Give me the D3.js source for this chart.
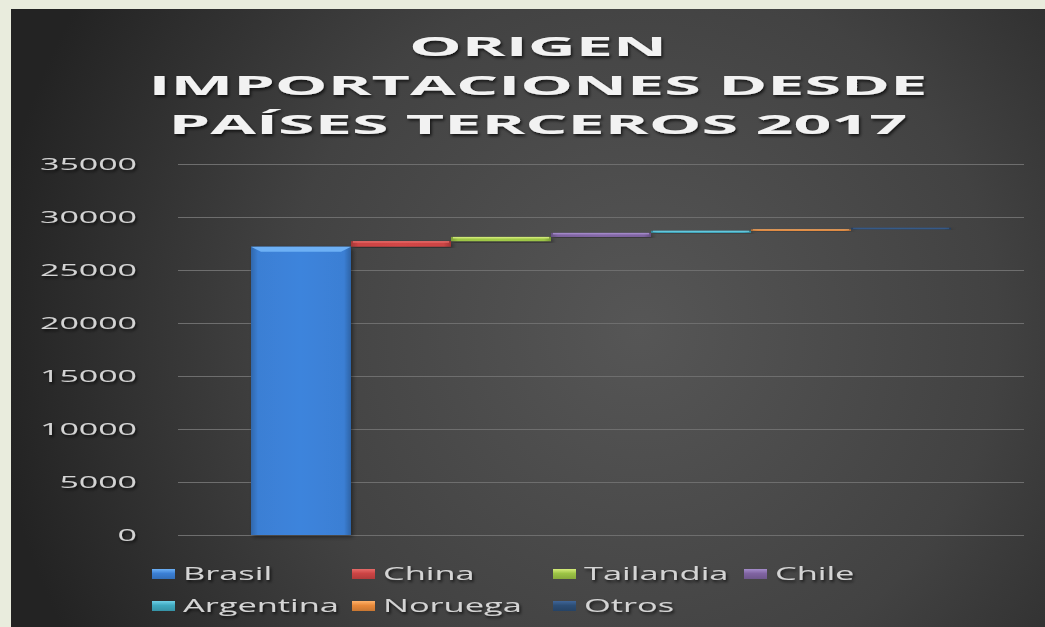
<!DOCTYPE html>
<html>
<head>
<meta charset="utf-8">
<script src="https://cdn.jsdelivr.net/npm/d3@7"></script>
<style>
  html, body { margin: 0; padding: 0; background: #e9ecdd; }
  svg { display: block; }
</style>
</head>
<body>
<svg id="chart" width="1045" height="627"></svg>
<script>
// ---- data ----
const titleLines = ["ORIGEN", "IMPORTACIONES DESDE", "PAÍSES TERCEROS 2017"];
const countries = ["Brasil", "China", "Tailandia", "Chile", "Argentina", "Noruega", "Otros"];
const values = [27200, 520, 400, 380, 200, 130, 150];
const yTicks = [0, 5000, 10000, 15000, 20000, 25000, 30000, 35000];
const palette = ["#3b7fd4", "#cc4444", "#9cc445", "#8064a2", "#3fa9bf", "#e8893a", "#2c4d75"];
const paletteLight = ["#6db0f5", "#e66a68", "#d4ec7a", "#a58ccb", "#6fd0e6", "#ffb26a", "#3f6598"];

// ---- layout ----
const W = 1045, H = 627;
const panel = {x: 11, y: 9};
const plot = {left: 178, right: 1024, top: 164, bottom: 535};

const svg = d3.select("#chart");
const defs = svg.append("defs");

const bg = defs.append("radialGradient").attr("id", "bg")
  .attr("gradientUnits", "userSpaceOnUse")
  .attr("cx", 640).attr("cy", 330).attr("r", 650);
bg.append("stop").attr("offset", "0").attr("stop-color", "#565656");
bg.append("stop").attr("offset", "0.55").attr("stop-color", "#424242");
bg.append("stop").attr("offset", "1").attr("stop-color", "#232323");

const sh = defs.append("filter").attr("id", "tshadow").attr("x", "-5%").attr("y", "-20%").attr("width", "110%").attr("height", "150%");
sh.append("feDropShadow").attr("dx", 1.5).attr("dy", 2).attr("stdDeviation", 1.5).attr("flood-color", "#000").attr("flood-opacity", 0.7);

const bsh = defs.append("filter").attr("id", "bshadow").attr("x", "-10%").attr("y", "-10%").attr("width", "130%").attr("height", "130%");
bsh.append("feDropShadow").attr("dx", 2).attr("dy", 2).attr("stdDeviation", 2).attr("flood-color", "#000").attr("flood-opacity", 0.45);

palette.forEach((c, i) => {
  const g = defs.append("linearGradient").attr("id", "bar" + i).attr("x1", 0).attr("x2", 1).attr("y1", 0).attr("y2", 0);
  g.append("stop").attr("offset", "0").attr("stop-color", d3.color(c).darker(0.6));
  g.append("stop").attr("offset", "0.07").attr("stop-color", c);
  g.append("stop").attr("offset", "0.5").attr("stop-color", d3.color(c).brighter(0.1));
  g.append("stop").attr("offset", "0.93").attr("stop-color", c);
  g.append("stop").attr("offset", "1").attr("stop-color", d3.color(c).darker(0.7));
  const s = defs.append("linearGradient").attr("id", "sw" + i).attr("x1", 0).attr("x2", 0).attr("y1", 0).attr("y2", 1);
  s.append("stop").attr("offset", "0").attr("stop-color", paletteLight[i]);
  s.append("stop").attr("offset", "0.45").attr("stop-color", c);
  s.append("stop").attr("offset", "1").attr("stop-color", d3.color(c).darker(0.4));
});

// panel background
svg.append("rect").attr("x", 0).attr("y", 0).attr("width", W).attr("height", H).attr("fill", "#e9ecdd");
svg.append("rect").attr("x", panel.x).attr("y", panel.y).attr("width", W - panel.x).attr("height", H - panel.y).attr("fill", "url(#bg)");

// ---- title ----
const titleG = svg.append("g").attr("filter", "url(#tshadow)");
const titleBaselines = [56, 95, 134];
const titleTexts = titleG.selectAll("text").data(titleLines).join("text")
  .attr("x", 538).attr("y", (d, i) => titleBaselines[i])
  .attr("text-anchor", "middle")
  .attr("font-family", "'Open Sans', sans-serif").attr("font-weight", "bold")
  .attr("font-size", 27).attr("fill", "#f2f2f2")
  .text(d => d);
const titleFactor = 779 / titleTexts.nodes()[1].getComputedTextLength();
titleTexts.each(function() {
  const n = this.getComputedTextLength();
  d3.select(this).attr("textLength", n * titleFactor).attr("lengthAdjust", "spacingAndGlyphs");
});

// ---- scales ----
const y = d3.scaleLinear().domain([0, 35000]).range([plot.bottom, plot.top]);
const x = d3.scaleBand().domain(countries).range([plot.left, plot.right]).paddingInner(0).paddingOuter(0.73);

// gridlines
svg.append("g").selectAll("line").data(yTicks).join("line")
  .attr("x1", plot.left).attr("x2", plot.right)
  .attr("y1", d => Math.round(y(d)) + 0.5).attr("y2", d => Math.round(y(d)) + 0.5)
  .attr("stroke", "#6e6e6e").attr("stroke-width", 1);

// y axis labels via d3 axis
const yAxis = svg.append("g").attr("transform", `translate(137,0)`)
  .call(d3.axisLeft(y).tickValues(yTicks).tickFormat(d3.format("d")).tickSize(0).tickPadding(0));
yAxis.select(".domain").remove();
yAxis.selectAll("text")
  .attr("font-family", "'Open Sans', sans-serif").attr("font-size", 17)
  .attr("fill", "#d4d4d4").attr("filter", "url(#tshadow)");
const tickNodes = yAxis.selectAll("text").nodes();
const tickFactor = 97 / tickNodes[tickNodes.length - 1].getComputedTextLength();
yAxis.selectAll("text").each(function() {
  const n = this.getComputedTextLength();
  d3.select(this).attr("textLength", n * tickFactor).attr("lengthAdjust", "spacingAndGlyphs");
});

// ---- bars (waterfall) ----
const tops = Array.from(d3.cumsum(values));
const bases = tops.map((t, i) => t - values[i]);
const barsG = svg.append("g");
countries.forEach((c, i) => {
  const x0 = x(c), w = x.bandwidth();
  const yt = y(tops[i]), yb = y(bases[i]);
  const h = Math.max(1.5, yb - yt);
  const g = barsG.append("g").attr("filter", "url(#bshadow)");
  g.append("rect").attr("x", x0).attr("y", yt).attr("width", w).attr("height", h)
    .attr("fill", `url(#bar${i})`);
  if (h > 20) {
    const bev = 5;
    g.append("path")
      .attr("d", `M${x0},${yt} L${x0 + w},${yt} L${x0 + w - bev * 2},${yt + bev} L${x0 + bev * 2},${yt + bev} Z`)
      .attr("fill", paletteLight[i]);
  } else {
    g.append("rect").attr("x", x0 + 2).attr("y", yt).attr("width", w - 4).attr("height", Math.min(1.5, h / 2))
      .attr("fill", paletteLight[i]).attr("opacity", 0.9);
  }
});

// ---- legend ----
const legCols = [152, 352, 553, 744];
const legRows = [574, 606];
const legG = svg.append("g");
const items = legG.selectAll("g").data(countries).join("g")
  .attr("transform", (d, i) => `translate(${legCols[i % 4]},${legRows[Math.floor(i / 4)]})`);
items.append("rect").attr("x", 0).attr("y", -5).attr("width", 23).attr("height", 10)
  .attr("fill", (d, i) => `url(#sw${i})`);
const legTexts = items.append("text").attr("x", 31).attr("y", 0).attr("dy", "0.35em")
  .attr("font-family", "'Open Sans', sans-serif").attr("font-size", 18)
  .attr("fill", "#d4d4d4").attr("filter", "url(#tshadow)")
  .text(d => d);
const legFactor = 156 / legTexts.nodes()[4].getComputedTextLength();
legTexts.each(function() {
  const n = this.getComputedTextLength();
  d3.select(this).attr("textLength", n * legFactor).attr("lengthAdjust", "spacingAndGlyphs");
});
</script>
</body>
</html>
